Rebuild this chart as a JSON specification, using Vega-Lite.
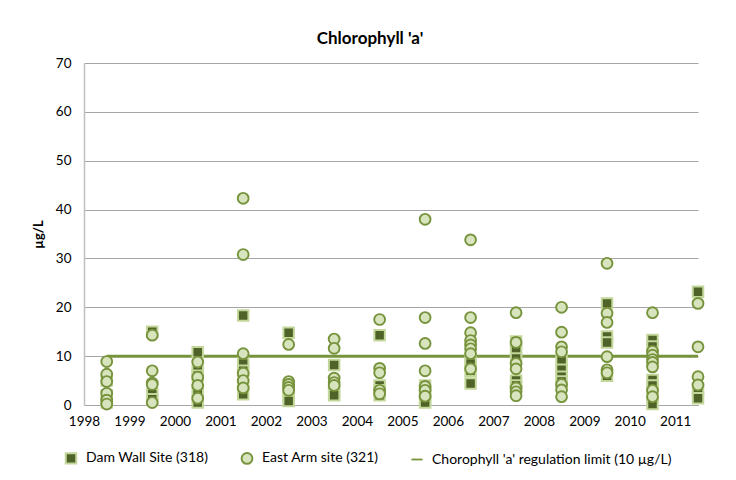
{
  "$schema": "https://vega.github.io/schema/vega-lite/v6.json",
  "width": 614,
  "height": 342,
  "autosize": "none",
  "padding": {"left": 84, "top": 63, "right": 38, "bottom": 75},
  "background": "white",
  "config": {"font": "Lato", "view": {"stroke": null}},
  "title": {"text": "Chlorophyll 'a'", "fontSize": 17, "fontWeight": "bold", "font": "Lato", "color": "#000000", "anchor": "middle", "dx": -21, "offset": 8},
  "datasets": {
    "obs": [
      {"date": 1998.5, "site": "Dam Wall Site (318)", "value": 5.0},
      {"date": 1998.5, "site": "Dam Wall Site (318)", "value": 2.0},
      {"date": 1998.5, "site": "Dam Wall Site (318)", "value": 0.5},
      {"date": 1999.5, "site": "Dam Wall Site (318)", "value": 15.0},
      {"date": 1999.5, "site": "Dam Wall Site (318)", "value": 2.2},
      {"date": 1999.5, "site": "Dam Wall Site (318)", "value": 1.2},
      {"date": 2000.5, "site": "Dam Wall Site (318)", "value": 10.8},
      {"date": 2000.5, "site": "Dam Wall Site (318)", "value": 7.0},
      {"date": 2000.5, "site": "Dam Wall Site (318)", "value": 6.0},
      {"date": 2000.5, "site": "Dam Wall Site (318)", "value": 3.0},
      {"date": 2000.5, "site": "Dam Wall Site (318)", "value": 0.5},
      {"date": 2001.5, "site": "Dam Wall Site (318)", "value": 18.3},
      {"date": 2001.5, "site": "Dam Wall Site (318)", "value": 8.5},
      {"date": 2001.5, "site": "Dam Wall Site (318)", "value": 7.0},
      {"date": 2001.5, "site": "Dam Wall Site (318)", "value": 4.0},
      {"date": 2001.5, "site": "Dam Wall Site (318)", "value": 2.2},
      {"date": 2002.5, "site": "Dam Wall Site (318)", "value": 14.8},
      {"date": 2002.5, "site": "Dam Wall Site (318)", "value": 3.0},
      {"date": 2002.5, "site": "Dam Wall Site (318)", "value": 1.5},
      {"date": 2002.5, "site": "Dam Wall Site (318)", "value": 0.8},
      {"date": 2003.5, "site": "Dam Wall Site (318)", "value": 8.2},
      {"date": 2003.5, "site": "Dam Wall Site (318)", "value": 2.7},
      {"date": 2003.5, "site": "Dam Wall Site (318)", "value": 2.0},
      {"date": 2004.5, "site": "Dam Wall Site (318)", "value": 14.3},
      {"date": 2004.5, "site": "Dam Wall Site (318)", "value": 4.0},
      {"date": 2004.5, "site": "Dam Wall Site (318)", "value": 3.0},
      {"date": 2004.5, "site": "Dam Wall Site (318)", "value": 2.0},
      {"date": 2005.5, "site": "Dam Wall Site (318)", "value": 4.0},
      {"date": 2005.5, "site": "Dam Wall Site (318)", "value": 2.5},
      {"date": 2005.5, "site": "Dam Wall Site (318)", "value": 1.2},
      {"date": 2005.5, "site": "Dam Wall Site (318)", "value": 0.5},
      {"date": 2006.5, "site": "Dam Wall Site (318)", "value": 9.5},
      {"date": 2006.5, "site": "Dam Wall Site (318)", "value": 8.5},
      {"date": 2006.5, "site": "Dam Wall Site (318)", "value": 7.0},
      {"date": 2006.5, "site": "Dam Wall Site (318)", "value": 4.4},
      {"date": 2007.5, "site": "Dam Wall Site (318)", "value": 13.0},
      {"date": 2007.5, "site": "Dam Wall Site (318)", "value": 11.0},
      {"date": 2007.5, "site": "Dam Wall Site (318)", "value": 9.5},
      {"date": 2007.5, "site": "Dam Wall Site (318)", "value": 5.0},
      {"date": 2007.5, "site": "Dam Wall Site (318)", "value": 4.0},
      {"date": 2008.5, "site": "Dam Wall Site (318)", "value": 9.0},
      {"date": 2008.5, "site": "Dam Wall Site (318)", "value": 7.2},
      {"date": 2008.5, "site": "Dam Wall Site (318)", "value": 5.8},
      {"date": 2008.5, "site": "Dam Wall Site (318)", "value": 4.8},
      {"date": 2009.5, "site": "Dam Wall Site (318)", "value": 20.8},
      {"date": 2009.5, "site": "Dam Wall Site (318)", "value": 14.0},
      {"date": 2009.5, "site": "Dam Wall Site (318)", "value": 12.8},
      {"date": 2009.5, "site": "Dam Wall Site (318)", "value": 6.0},
      {"date": 2010.5, "site": "Dam Wall Site (318)", "value": 13.3},
      {"date": 2010.5, "site": "Dam Wall Site (318)", "value": 12.0},
      {"date": 2010.5, "site": "Dam Wall Site (318)", "value": 5.1},
      {"date": 2010.5, "site": "Dam Wall Site (318)", "value": 4.0},
      {"date": 2010.5, "site": "Dam Wall Site (318)", "value": 1.5},
      {"date": 2010.5, "site": "Dam Wall Site (318)", "value": 0.2},
      {"date": 2011.5, "site": "Dam Wall Site (318)", "value": 23.2},
      {"date": 2011.5, "site": "Dam Wall Site (318)", "value": 3.0},
      {"date": 2011.5, "site": "Dam Wall Site (318)", "value": 1.4},
      {"date": 1998.5, "site": "East Arm site (321)", "value": 8.9},
      {"date": 1998.5, "site": "East Arm site (321)", "value": 6.3},
      {"date": 1998.5, "site": "East Arm site (321)", "value": 4.8},
      {"date": 1998.5, "site": "East Arm site (321)", "value": 2.4},
      {"date": 1998.5, "site": "East Arm site (321)", "value": 1.0},
      {"date": 1998.5, "site": "East Arm site (321)", "value": 0.2},
      {"date": 1999.5, "site": "East Arm site (321)", "value": 14.3},
      {"date": 1999.5, "site": "East Arm site (321)", "value": 7.0},
      {"date": 1999.5, "site": "East Arm site (321)", "value": 4.5},
      {"date": 1999.5, "site": "East Arm site (321)", "value": 4.2},
      {"date": 1999.5, "site": "East Arm site (321)", "value": 0.5},
      {"date": 2000.5, "site": "East Arm site (321)", "value": 8.8},
      {"date": 2000.5, "site": "East Arm site (321)", "value": 5.7},
      {"date": 2000.5, "site": "East Arm site (321)", "value": 4.0},
      {"date": 2000.5, "site": "East Arm site (321)", "value": 1.4},
      {"date": 2001.5, "site": "East Arm site (321)", "value": 42.3},
      {"date": 2001.5, "site": "East Arm site (321)", "value": 30.8},
      {"date": 2001.5, "site": "East Arm site (321)", "value": 10.5},
      {"date": 2001.5, "site": "East Arm site (321)", "value": 6.5},
      {"date": 2001.5, "site": "East Arm site (321)", "value": 5.0},
      {"date": 2001.5, "site": "East Arm site (321)", "value": 3.5},
      {"date": 2002.5, "site": "East Arm site (321)", "value": 12.4},
      {"date": 2002.5, "site": "East Arm site (321)", "value": 4.8},
      {"date": 2002.5, "site": "East Arm site (321)", "value": 4.2},
      {"date": 2002.5, "site": "East Arm site (321)", "value": 3.6},
      {"date": 2002.5, "site": "East Arm site (321)", "value": 3.0},
      {"date": 2003.5, "site": "East Arm site (321)", "value": 13.5},
      {"date": 2003.5, "site": "East Arm site (321)", "value": 11.6},
      {"date": 2003.5, "site": "East Arm site (321)", "value": 5.5},
      {"date": 2003.5, "site": "East Arm site (321)", "value": 4.6},
      {"date": 2003.5, "site": "East Arm site (321)", "value": 4.0},
      {"date": 2004.5, "site": "East Arm site (321)", "value": 17.5},
      {"date": 2004.5, "site": "East Arm site (321)", "value": 7.5},
      {"date": 2004.5, "site": "East Arm site (321)", "value": 6.6},
      {"date": 2004.5, "site": "East Arm site (321)", "value": 3.0},
      {"date": 2004.5, "site": "East Arm site (321)", "value": 2.3},
      {"date": 2005.5, "site": "East Arm site (321)", "value": 38.0},
      {"date": 2005.5, "site": "East Arm site (321)", "value": 17.9},
      {"date": 2005.5, "site": "East Arm site (321)", "value": 12.6},
      {"date": 2005.5, "site": "East Arm site (321)", "value": 7.0},
      {"date": 2005.5, "site": "East Arm site (321)", "value": 3.8},
      {"date": 2005.5, "site": "East Arm site (321)", "value": 3.0},
      {"date": 2005.5, "site": "East Arm site (321)", "value": 1.8},
      {"date": 2006.5, "site": "East Arm site (321)", "value": 33.8},
      {"date": 2006.5, "site": "East Arm site (321)", "value": 17.9},
      {"date": 2006.5, "site": "East Arm site (321)", "value": 14.8},
      {"date": 2006.5, "site": "East Arm site (321)", "value": 13.2},
      {"date": 2006.5, "site": "East Arm site (321)", "value": 12.3},
      {"date": 2006.5, "site": "East Arm site (321)", "value": 11.5},
      {"date": 2006.5, "site": "East Arm site (321)", "value": 10.5},
      {"date": 2006.5, "site": "East Arm site (321)", "value": 7.4},
      {"date": 2007.5, "site": "East Arm site (321)", "value": 18.9},
      {"date": 2007.5, "site": "East Arm site (321)", "value": 12.8},
      {"date": 2007.5, "site": "East Arm site (321)", "value": 8.5},
      {"date": 2007.5, "site": "East Arm site (321)", "value": 7.4},
      {"date": 2007.5, "site": "East Arm site (321)", "value": 3.5},
      {"date": 2007.5, "site": "East Arm site (321)", "value": 2.7},
      {"date": 2007.5, "site": "East Arm site (321)", "value": 1.9},
      {"date": 2008.5, "site": "East Arm site (321)", "value": 20.0},
      {"date": 2008.5, "site": "East Arm site (321)", "value": 14.9},
      {"date": 2008.5, "site": "East Arm site (321)", "value": 11.9},
      {"date": 2008.5, "site": "East Arm site (321)", "value": 10.9},
      {"date": 2008.5, "site": "East Arm site (321)", "value": 4.2},
      {"date": 2008.5, "site": "East Arm site (321)", "value": 3.1},
      {"date": 2008.5, "site": "East Arm site (321)", "value": 1.7},
      {"date": 2009.5, "site": "East Arm site (321)", "value": 29.0},
      {"date": 2009.5, "site": "East Arm site (321)", "value": 18.8},
      {"date": 2009.5, "site": "East Arm site (321)", "value": 16.9},
      {"date": 2009.5, "site": "East Arm site (321)", "value": 9.9},
      {"date": 2009.5, "site": "East Arm site (321)", "value": 7.2},
      {"date": 2009.5, "site": "East Arm site (321)", "value": 6.6},
      {"date": 2010.5, "site": "East Arm site (321)", "value": 18.9},
      {"date": 2010.5, "site": "East Arm site (321)", "value": 11.0},
      {"date": 2010.5, "site": "East Arm site (321)", "value": 10.2},
      {"date": 2010.5, "site": "East Arm site (321)", "value": 9.3},
      {"date": 2010.5, "site": "East Arm site (321)", "value": 8.7},
      {"date": 2010.5, "site": "East Arm site (321)", "value": 7.8},
      {"date": 2010.5, "site": "East Arm site (321)", "value": 3.0},
      {"date": 2010.5, "site": "East Arm site (321)", "value": 1.7},
      {"date": 2011.5, "site": "East Arm site (321)", "value": 20.8},
      {"date": 2011.5, "site": "East Arm site (321)", "value": 11.9},
      {"date": 2011.5, "site": "East Arm site (321)", "value": 5.8},
      {"date": 2011.5, "site": "East Arm site (321)", "value": 4.1}
    ],
    "limit": [
      {"start": 1998.5, "end": 2011.5, "value": 10}
    ]
  },
  "layer": [
    {
      "data": {"name": "limit"},
      "mark": {"type": "rule", "color": "#77933c", "strokeWidth": 3},
      "encoding": {
        "x": {"field": "start", "type": "quantitative", "scale": {"domain": [1998, 2011.5], "nice": false, "zero": false}},
        "x2": {"field": "end"},
        "y": {"field": "value", "type": "quantitative", "scale": {"domain": [0, 70], "nice": false}}
      }
    },
    {
      "data": {"name": "obs"},
      "mark": {"type": "point", "filled": true, "opacity": 1},
      "encoding": {
        "x": {
          "field": "date", "type": "quantitative",
          "scale": {"domain": [1998, 2011.5], "nice": false, "zero": false},
          "axis": {"values": [1998, 1999, 2000, 2001, 2002, 2003, 2004, 2005, 2006, 2007, 2008, 2009, 2010, 2011], "format": "d", "title": null, "grid": false, "ticks": false, "domainColor": "#a6a6a6", "domainWidth": 1, "labelFontSize": 13.5, "labelColor": "#000000", "labelPadding": 9, "labelFlush": false}
        },
        "y": {
          "field": "value", "type": "quantitative",
          "scale": {"domain": [0, 70], "nice": false},
          "axis": {"values": [0, 10, 20, 30, 40, 50, 60, 70], "title": "µg/L", "titleFontSize": 13, "titleFontWeight": "bold", "titleColor": "#000000", "titlePadding": 10, "grid": true, "gridColor": "#a6a6a6", "gridWidth": 1, "ticks": false, "domainColor": "#c0c0c0", "domainWidth": 1.5, "labelFontSize": 13.5, "labelColor": "#000000", "labelPadding": 13}
        },
        "shape": {
          "field": "site", "type": "nominal",
          "scale": {"domain": ["Dam Wall Site (318)", "East Arm site (321)", "Chorophyll 'a' regulation limit (10 µg/L)"], "range": ["square", "circle", "stroke"]},
          "legend": {"title": null, "orient": "none", "direction": "horizontal", "legendX": -20, "legendY": 388, "labelFontSize": 14, "labelColor": "#000000", "labelLimit": 400, "columnPadding": 28, "labelOffset": 8, "symbolStrokeWidth": 2}
        },
        "fill": {
          "field": "site", "type": "nominal",
          "scale": {"domain": ["Dam Wall Site (318)", "East Arm site (321)", "Chorophyll 'a' regulation limit (10 µg/L)"], "range": ["#4f6228", "#d7e4bd", "#77933c"]}
        },
        "stroke": {
          "field": "site", "type": "nominal",
          "scale": {"domain": ["Dam Wall Site (318)", "East Arm site (321)", "Chorophyll 'a' regulation limit (10 µg/L)"], "range": ["#c4d79b", "#77933c", "#77933c"]}
        },
        "size": {
          "field": "site", "type": "nominal",
          "scale": {"domain": ["Dam Wall Site (318)", "East Arm site (321)", "Chorophyll 'a' regulation limit (10 µg/L)"], "range": [110, 125, 1200]}
        },
        "strokeWidth": {
          "field": "site", "type": "nominal",
          "scale": {"domain": ["Dam Wall Site (318)", "East Arm site (321)", "Chorophyll 'a' regulation limit (10 µg/L)"], "range": [2, 1.8, 3]}
        }
      }
    }
  ]
}
